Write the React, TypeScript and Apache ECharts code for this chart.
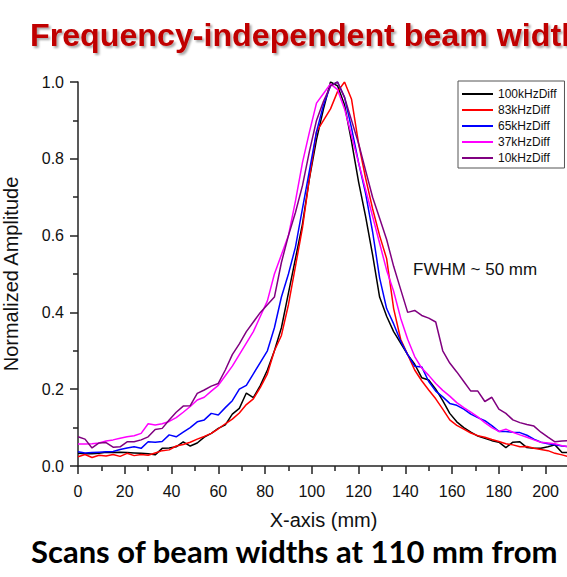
import React, { useEffect, useRef } from "react";
import * as echarts from "echarts";

const xs = [0,3,6,9,12,15,18,21,24,27,30,33,36,39,42,45,48,51,54,57,60,63,66,69,72,75,78,81,84,87,90,93,96,99,102,105,108,111,114,117,120,123,126,129,132,135,138,141,144,147,150,153,156,159,162,165,168,171,174,177,180,183,186,189,192,195,198,201,204,207,210];

const s100k = [0.033,0.032,0.032,0.033,0.036,0.035,0.036,0.035,0.034,0.033,0.032,0.029,0.046,0.047,0.05,0.063,0.052,0.06,0.075,0.085,0.098,0.107,0.135,0.15,0.19,0.178,0.21,0.25,0.3,0.36,0.45,0.54,0.63,0.75,0.85,0.93,1.0,0.99,0.94,0.845,0.74,0.65,0.55,0.44,0.39,0.35,0.32,0.29,0.265,0.23,0.224,0.2,0.17,0.137,0.115,0.1,0.088,0.078,0.072,0.066,0.062,0.048,0.062,0.063,0.048,0.046,0.046,0.05,0.055,0.035,0.035];
const s83k = [0.024,0.03,0.022,0.028,0.026,0.03,0.025,0.033,0.027,0.03,0.028,0.034,0.04,0.042,0.052,0.056,0.062,0.07,0.077,0.085,0.097,0.11,0.122,0.138,0.16,0.175,0.205,0.24,0.3,0.34,0.42,0.52,0.62,0.75,0.87,0.9,0.93,0.975,1.0,0.955,0.84,0.75,0.67,0.6,0.54,0.41,0.33,0.29,0.25,0.222,0.198,0.175,0.148,0.12,0.106,0.096,0.086,0.079,0.075,0.069,0.064,0.058,0.055,0.05,0.051,0.046,0.043,0.04,0.033,0.029,0.024];
const s65k = [0.037,0.034,0.035,0.036,0.037,0.038,0.043,0.047,0.05,0.046,0.063,0.062,0.064,0.081,0.076,0.088,0.1,0.115,0.12,0.137,0.133,0.152,0.17,0.2,0.21,0.24,0.27,0.3,0.36,0.44,0.5,0.57,0.67,0.77,0.87,0.94,0.99,1.0,0.96,0.88,0.79,0.71,0.61,0.49,0.41,0.37,0.325,0.29,0.26,0.258,0.22,0.195,0.18,0.163,0.158,0.148,0.135,0.126,0.118,0.105,0.09,0.09,0.088,0.087,0.08,0.07,0.062,0.058,0.055,0.052,0.05];
const s37k = [0.057,0.057,0.058,0.06,0.065,0.068,0.072,0.076,0.079,0.085,0.11,0.107,0.11,0.116,0.126,0.14,0.155,0.172,0.179,0.195,0.21,0.235,0.26,0.29,0.32,0.35,0.39,0.43,0.5,0.55,0.6,0.69,0.79,0.87,0.945,0.97,0.995,0.98,0.93,0.86,0.79,0.72,0.65,0.58,0.51,0.455,0.385,0.33,0.285,0.255,0.236,0.215,0.197,0.182,0.165,0.152,0.14,0.128,0.113,0.1,0.09,0.096,0.088,0.081,0.075,0.068,0.062,0.06,0.058,0.053,0.05];
const s10k = [0.076,0.07,0.047,0.06,0.061,0.049,0.05,0.063,0.063,0.068,0.076,0.095,0.098,0.12,0.14,0.156,0.157,0.189,0.198,0.208,0.215,0.25,0.29,0.318,0.35,0.375,0.4,0.42,0.44,0.53,0.6,0.66,0.73,0.82,0.9,0.95,0.99,1.0,0.96,0.9,0.84,0.77,0.7,0.645,0.59,0.52,0.46,0.4,0.405,0.392,0.385,0.375,0.3,0.268,0.245,0.22,0.195,0.195,0.168,0.179,0.148,0.137,0.12,0.113,0.108,0.104,0.088,0.075,0.063,0.065,0.066];

const seriesNames = ["100kHzDiff", "83kHzDiff", "65kHzDiff", "37kHzDiff", "10kHzDiff"];
const seriesValues = [s100k, s83k, s65k, s37k, s10k];
const seriesColors = ["#000000", "#ff0000", "#0000ff", "#ff00ff", "#800080"];

const titleText = "Frequency-independent beam width";
const bottomText = "Scans of beam widths at 110 mm from";
const noteText = "FWHM ~ 50 mm";
const xName = "X-axis (mm)";
const yName = "Normalized Amplitude";

const FONT = "'Liberation Sans', Arial, sans-serif";

export default function App() {
  const ref = useRef<HTMLDivElement>(null);
  useEffect(() => {
    if (!ref.current) return;
    const chart = echarts.init(ref.current, null, { renderer: "svg" });
    const series = seriesNames.map((name, i) => ({
      name,
      type: "line",
      data: xs.map((x, j) => [x, seriesValues[i][j]]),
      symbol: "none",
      showSymbol: false,
      lineStyle: { color: seriesColors[i], width: 1.5 },
      itemStyle: { color: seriesColors[i] },
    }));
    chart.setOption({
      animation: false,
      backgroundColor: "#ffffff",
      grid: {
        left: 78,
        right: -2,
        top: 82,
        bottom: 111,
        containLabel: false,
        outerBoundsMode: "none",
      },
      legend: {
        orient: "vertical",
        left: 458,
        top: 81,
        icon: "rect",
        itemWidth: 31,
        itemHeight: 2,
        itemGap: 4,
        padding: [7, 8, 4, 4],
        borderColor: "#555",
        borderWidth: 1,
        borderRadius: 0,
        textStyle: { fontFamily: FONT, fontSize: 12, color: "#111" },
        data: seriesNames,
      },
      xAxis: {
        type: "value",
        min: 0,
        max: 210,
        interval: 20,
        name: xName,
        nameLocation: "middle",
        nameGap: 44,
        nameTextStyle: { fontFamily: FONT, fontSize: 20, color: "#111" },
        axisLine: { show: true, lineStyle: { color: "#222", width: 1.5 } },
        axisTick: { show: true, length: 8, lineStyle: { color: "#222", width: 1.5 } },
        minorTick: { show: true, splitNumber: 2, length: 5, lineStyle: { color: "#222", width: 1.5 } },
        axisLabel: {
          fontFamily: FONT,
          fontSize: 16,
          color: "#111",
          margin: 17,
          formatter: (v: number) => (v % 20 === 0 ? String(v) : ""),
        },
        splitLine: { show: false },
      },
      yAxis: {
        type: "value",
        min: 0,
        max: 1,
        interval: 0.2,
        name: yName,
        nameLocation: "middle",
        nameGap: 57,
        nameTextStyle: { fontFamily: FONT, fontSize: 20, color: "#111" },
        axisLine: { show: true, lineStyle: { color: "#222", width: 1.5 } },
        axisTick: { show: true, length: 8, lineStyle: { color: "#222", width: 1.5 } },
        minorTick: { show: true, splitNumber: 2, length: 5, lineStyle: { color: "#222", width: 1.5 } },
        axisLabel: {
          fontFamily: FONT,
          fontSize: 16,
          color: "#111",
          margin: 14,
          formatter: (v: number) => v.toFixed(1),
        },
        splitLine: { show: false },
      },
      graphic: [
        {
          type: "text",
          left: 30,
          top: 19,
          style: {
            text: titleText,
            font: `bold 32.2px ${FONT}`,
            fill: "#c00000",
            textShadowColor: "rgba(0,0,0,0.35)",
            textShadowBlur: 2,
            textShadowOffsetX: 2,
            textShadowOffsetY: 2,
          },
        },
        {
          type: "text",
          left: 413,
          top: 261,
          style: { text: noteText, font: `17px ${FONT}`, fill: "#111" },
        },
        {
          type: "text",
          left: 31,
          top: 535,
          style: { text: bottomText, font: `bold 31px Lato, 'Open Sans', sans-serif`, fill: "#000" },
        },
      ],
      series,
    });
    return () => chart.dispose();
  }, []);
  return (
    <div
      ref={ref}
      style={{ position: "fixed", left: 0, top: 0, width: 567, height: 577, background: "#fff" }}
    />
  );
}
